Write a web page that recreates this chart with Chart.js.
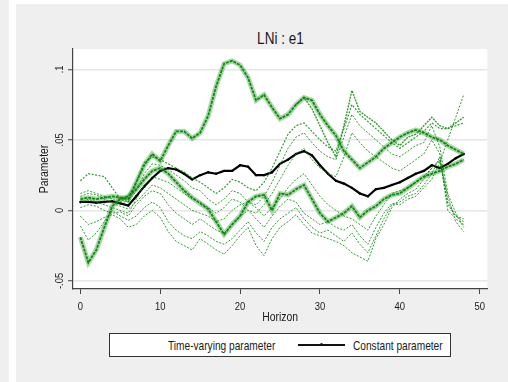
<!DOCTYPE html>
<html>
<head>
<meta charset="utf-8">
<script src="https://cdn.jsdelivr.net/npm/chart.js@4.4.1/dist/chart.umd.min.js"></script>
<style>
  html, body { margin: 0; padding: 0; background: #ffffff; }
  body { width: 508px; height: 382px; position: relative; overflow: hidden;
         font-family: 'Liberation Sans', Arial, sans-serif; color: #1a1a1a; }
  #strip { position: absolute; left: 0; top: 0; width: 9px; height: 382px; background: #efefef; }
  #panel { position: absolute; left: 16px; top: 4px; width: 492px; height: 378px; background: #efefef; }
  #title { position: absolute; left: 0; width: 560px; top: 28.5px; text-align: center; font-size: 16.5px; line-height: 18px; }
  #title span { display: inline-block; transform: scaleX(0.82); }
  #chart { position: absolute; left: 0; top: 0; }
  #legend { position: absolute; left: 109px; top: 333px; width: 340px; height: 22px; background: #fff; border: 1px solid #333; font-size: 13px; }
  #legend .txt { position: absolute; top: 4px; line-height: 16px; white-space: nowrap; transform: scaleX(0.78); transform-origin: left center; }
  #legend .key { position: absolute; left: 188px; top: 10px; width: 47px; height: 0; border-top: 2px solid #111; }
  #legend .key::after { content: ''; position: absolute; left: 22px; top: -3.5px; width: 3px; height: 3px; background: #111; border-radius: 50%; }
</style>
</head>
<body>
<div id="strip"></div>
<div id="panel"></div>
<div id="title"><span>LNi : e1</span></div>
<canvas id="chart" width="508" height="382"></canvas>
<div id="legend">
  <span class="txt" style="left:58px">Time-varying parameter</span>
  <span class="key"></span>
  <span class="txt" style="left:243px">Constant parameter</span>
</div>
<script>
// Horizonte y ejes
const horizon = [0,1,2,3,4,5,6,7,8,9,10,11,12,13,14,15,16,17,18,19,20,21,22,23,24,
  25,26,27,28,29,30,31,32,33,34,35,36,37,38,39,40,41,42,43,44,45,46,47,48];
const xTicks = [0, 10, 20, 30, 40, 50];
const xTickLabels = ['0', '10', '20', '30', '40', '50'];
const yTicks = [-0.05, 0, 0.05, 0.1];
const yTickLabels = ['-.05', '0', '.05', '.1'];

// Parámetro constante (línea negra)
const constantParam = [.006,.006,.0055,.006,.0065,.005,.0035,.010,.017,.023,
  .028,.030,.029,.026,.022,.025,.027,.026,.028,.028,
  .032,.031,.025,.025,.027,.033,.036,.040,.042,.039,
  .032,.026,.021,.019,.016,.012,.010,.015,.016,.018,
  .020,.023,.026,.028,.032,.030,.033,.037,.040];

// Parámetros variables en el tiempo (líneas verdes)
const tvA = [.008,.009,.008,.009,.010,.009,.008,.020,.032,.040,
  .035,.046,.056,.056,.051,.055,.067,.088,.104,.106,
  .103,.094,.078,.082,.073,.065,.068,.075,.080,.078,
  .068,.060,.053,.042,.036,.030,.034,.038,.044,.048,
  .052,.055,.057,.055,.052,.050,.046,.043,.040];
const tvA2 = [null,null,null,null,null,null,null,null,null,null,
  null,null,null,null,null,null,null,null,null,null,
  null,null,null,null,null,null,null,.075,.080,.072,
  .060,.048,.038,.060,.085,.070,.066,.062,.056,.050,
  .046,.052,.054,.060,.066,.060,.058,.062,.066];
const tvM1 = [.021,.026,.025,.024,.016,.008,.006,.020,.034,.038,
  .036,.033,.030,.027,.023,.020,.016,.012,.016,.022,
  .020,.016,.014,.020,.030,.042,.054,.060,.062,.056,
  .050,.045,.042,.058,.075,.068,.063,.058,.053,.048,
  .044,.048,.052,.056,.062,.058,.058,.060,.062];
const tvM2 = [.012,.014,.012,.010,.008,.006,.006,.014,.026,.033,
  .032,.029,.025,.021,.016,.014,.008,.004,.008,.014,
  .012,.006,.004,.010,.020,.032,.044,.052,.055,.048,
  .042,.038,.036,.052,.068,.060,.055,.050,.045,.040,
  .038,.042,.046,.048,.060,.045,.012,-.002,-.012];
const tvM3 = [.005,.008,.006,.004,.002,.000,-.002,.008,.018,.024,
  .022,.020,.016,.012,.008,.006,.002,-.002,.002,.008,
  .006,.000,-.002,.004,.012,.022,.032,.040,.044,.036,
  .030,.026,.024,.038,.055,.048,.042,.038,.034,.030,
  .028,.032,.036,.040,.050,.040,.006,-.004,-.008];
const tvB = [-.019,-.037,-.028,-.012,.003,.008,.010,.015,.022,.028,
  .030,.026,.020,.014,.009,.005,.001,-.008,-.017,-.010,
  -.004,.006,.010,.011,.000,.012,.011,.015,.018,.008,
  -.002,-.008,-.005,-.002,.003,-.005,.000,.003,.008,.011,
  .012,.016,.020,.024,.026,.028,.031,.033,.036];
const tvL1 = [-.004,-.010,-.008,-.005,-.003,-.006,-.012,-.010,-.004,.000,
  -.005,-.015,-.022,-.025,-.028,-.020,-.024,-.028,-.031,-.025,
  -.018,-.012,-.025,-.032,-.020,-.012,-.008,-.003,-.010,-.016,
  -.018,-.020,-.022,-.025,-.030,-.033,-.036,-.020,-.010,.002,
  .008,.012,.015,.022,.030,.035,.010,-.008,-.015];
const tvL2 = [-.011,-.021,-.016,-.008,.000,-.004,-.007,-.004,.002,.006,
  .002,-.008,-.014,-.018,-.020,-.015,-.018,-.022,-.024,-.020,
  -.014,-.008,-.016,-.022,-.012,-.006,-.002,.002,-.006,-.012,
  -.016,-.014,-.018,-.022,-.016,-.024,-.030,-.018,-.006,.004,
  .006,.010,.012,.018,.026,.038,.000,-.006,-.010];
const tvL3 = [.002,.004,.003,.000,-.002,-.001,-.004,.004,.010,.014,
  .012,.004,-.002,-.006,-.010,-.006,-.010,-.014,-.016,-.010,
  -.004,.000,-.006,-.012,-.004,.003,.008,.006,-.002,-.006,
  -.010,-.008,-.012,-.014,-.010,-.018,-.024,-.012,-.002,.005,
  .004,.008,.010,.016,.022,.034,.050,.066,.082];
const tvL4 = [.010,.012,.011,.008,.005,.003,.001,.006,.012,.018,
  .016,.012,.008,.004,.000,-.002,-.004,-.008,-.006,.000,
  .004,.006,.002,-.004,.002,.008,.016,.022,.026,.018,
  .010,.004,.000,-.004,-.006,-.010,-.014,-.004,.004,.012,
  .014,.016,.020,.024,.030,.036,.004,-.004,-.006];

const green = '#0b8a0b';
const thinGreen = 'rgba(11, 138, 11, 0.85)';
const bandGreen = 'rgba(11, 138, 11, 0.35)';
const fontFamily = "'Liberation Sans', Arial, sans-serif";
const textColor = '#1a1a1a';
const axisColor = '#444444';

// El texto de Stata es estrecho: comprimir horizontalmente el texto del canvas
const canvas = document.getElementById('chart');
const cctx = canvas.getContext('2d');
const rawFillText = cctx.fillText.bind(cctx);
const squeeze = 0.8;
cctx.fillText = function(text, x, y, maxWidth) {
  cctx.save();
  cctx.translate(x, y);
  cctx.scale(squeeze, 1);
  if (maxWidth === undefined) rawFillText(text, 0, 0);
  else rawFillText(text, 0, 0, maxWidth / squeeze);
  cctx.restore();
};

function toPoints(values) {
  return horizon.map((h, i) => ({ x: h, y: values[i] }));
}

function greenSet(values, width, dash, color) {
  return {
    data: toPoints(values),
    borderColor: color || thinGreen,
    borderWidth: width,
    borderDash: dash,
    pointRadius: 0,
    tension: 0,
    spanGaps: false
  };
}

const datasets = [
  greenSet(tvL1, 1, [2, 1.5]),
  greenSet(tvL2, 1, [2, 1.5]),
  greenSet(tvL3, 1, [2, 1.5]),
  greenSet(tvL4, 1, [2, 1.5]),
  greenSet(tvM3, 1, [2, 1.5]),
  greenSet(tvM2, 1, [2, 1.5]),
  greenSet(tvM1, 1.2, [2, 1.5]),
  greenSet(tvA2, 1.4, [2, 1]),
  // Haces gruesos: banda clara + línea punteada encima
  greenSet(tvB, 5, [], bandGreen),
  greenSet(tvB, 1.8, [3, 1], green),
  greenSet(tvA, 5, [], bandGreen),
  greenSet(tvA, 1.8, [3, 1], green),
  {
    data: toPoints(constantParam),
    borderColor: '#000000',
    backgroundColor: '#000000',
    borderWidth: 2.2,
    pointRadius: 1.2,
    pointBorderWidth: 0,
    tension: 0
  }
];

// Fondo blanco del área de trazado
const plotBackground = {
  id: 'plotBackground',
  beforeDraw(chart) {
    const { ctx, chartArea } = chart;
    ctx.save();
    ctx.fillStyle = '#ffffff';
    ctx.fillRect(chartArea.left, chartArea.top, chartArea.right - chartArea.left, chartArea.bottom - chartArea.top);
    ctx.restore();
  }
};

new Chart(canvas, {
  type: 'line',
  data: { datasets },
  options: {
    responsive: false,
    animation: false,
    devicePixelRatio: 1,
    layout: { padding: { left: 0, top: 49, right: 20.7, bottom: 56.5 } },
    plugins: { legend: { display: false }, tooltip: { enabled: false } },
    scales: {
      x: {
        type: 'linear',
        min: -0.92,
        max: 50.95,
        afterBuildTicks: s => { s.ticks = xTicks.map(v => ({ value: v })); },
        afterFit: s => { s.height = 36.5; },
        grid: { drawOnChartArea: false, drawTicks: true, tickLength: 5, tickColor: axisColor, color: axisColor },
        border: { display: true, color: axisColor, width: 1.2 },
        ticks: {
          autoSkip: false, maxRotation: 0, padding: 6, color: textColor,
          font: { family: fontFamily, size: 11.8 },
          callback: (v, i) => xTickLabels[i]
        },
        title: {
          display: true, text: 'Horizon', color: textColor,
          font: { family: fontFamily, size: 13 },
          padding: { top: 0, bottom: 0 }
        }
      },
      y: {
        min: -0.0557,
        max: 0.1144,
        afterBuildTicks: s => { s.ticks = yTicks.map(v => ({ value: v })); },
        afterFit: s => { s.width = 73; },
        grid: { color: '#e6e6e6', lineWidth: 1.5, tickLength: 5, tickColor: axisColor, tickWidth: 1 },
        border: { display: true, color: axisColor, width: 1.2 },
        ticks: {
          autoSkip: false, minRotation: 90, maxRotation: 90, crossAlign: 'center', padding: -2,
          color: textColor, font: { family: fontFamily, size: 11.8 },
          callback: (v, i) => yTickLabels[i]
        },
        title: {
          display: true, text: 'Parameter', color: textColor,
          font: { family: fontFamily, size: 13 },
          padding: { top: 37, bottom: 0 }
        }
      }
    }
  },
  plugins: [plotBackground]
});
</script>
</body>
</html>
